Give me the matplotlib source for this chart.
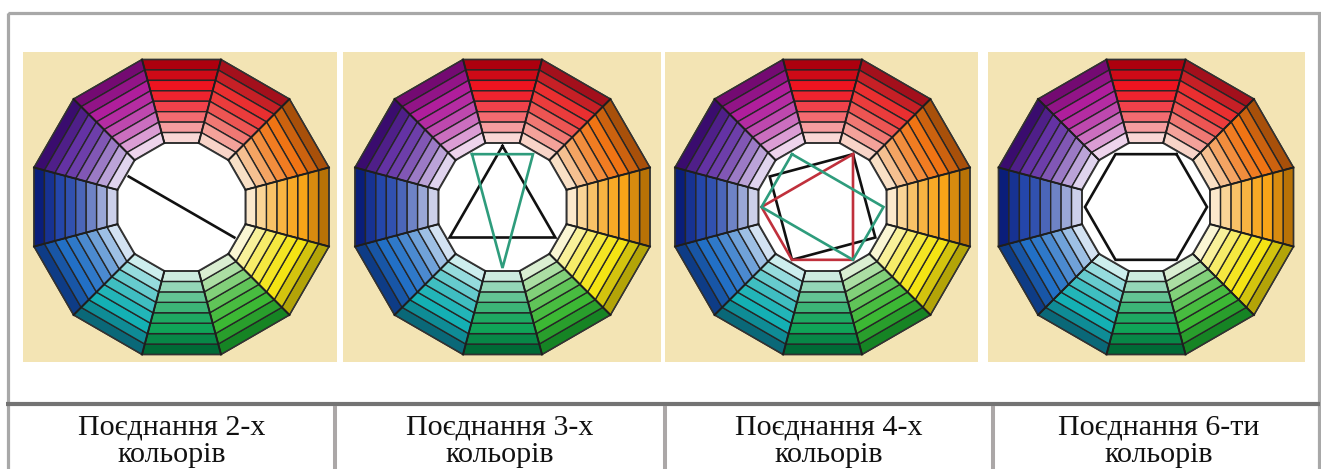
import numpy as np
import matplotlib
matplotlib.use('Agg')
import matplotlib.pyplot as plt
from matplotlib.patches import Polygon, Rectangle
from matplotlib.colors import to_rgb

# Кольори сегментів (за годинниковою стрілкою від верху): темний, чистий, світлий
hue_dark = ['#ad000e', '#a3101c', '#a8500a', '#b87206', '#b3a408', '#168424',
            '#006a36', '#0a6878', '#0e3c86', '#0a1e7a', '#3a0c6e', '#740a72']
hue_pure = ['#ee1420', '#ea2f30', '#f07414', '#f7a418', '#f4e414', '#3cb834',
            '#10a458', '#14b0b4', '#2270c6', '#2446aa', '#6432a4', '#b01e9c']
hue_light = ['#f9d8d6', '#f8d4c8', '#f9e0c6', '#fbe8cc', '#faf6d4', '#daeed2',
             '#cdece0', '#cdeeee', '#d3e2f2', '#ccd0ea', '#e0d4ee', '#eed4ec']

# Поєднання кольорів: індекси сегментів для кожного круга
schemes = [
    [([10, 4], '#111111', False)],
    [([0, 4, 8], '#111111', True), ([11, 1, 6], '#2e9c7c', True)],
    [([1, 4, 7, 10], '#111111', True), ([1, 5, 7, 9], '#c0303c', True),
     ([11, 3, 5, 9], '#2e9c7c', True)],
    [([1, 3, 5, 7, 9, 11], '#111111', True)],
]

captions = ['Поєднання 2-х\nкольорів', 'Поєднання 3-х\nкольорів',
            'Поєднання 4-х\nкольорів', 'Поєднання 6-ти\nкольорів']

n_bands = 8

fig = plt.figure(figsize=(13.21, 4.69), dpi=100)
ax = fig.add_axes([0, 0, 1, 1])
ax.set_xlim(0, 1321)
ax.set_ylim(469, 0)
ax.axis('off')

# Рамки таблиці
ax.add_patch(Rectangle((7.5, 13.5), 1311, 470, fill=False, ec='#a8a8a8', lw=2.3))
ax.plot([6, 1320], [404, 404], color='#737373', lw=3.0, solid_capstyle='butt')
for xv in [335, 665, 993]:
    ax.plot([xv, xv], [406, 470], color='#aba7a7', lw=2.9, solid_capstyle='butt')

panels = [(23, 337), (343, 661), (665, 978), (988, 1305)]
centers = [181.5, 502.5, 822.5, 1146]
cy = 207
R_out = 147.5
R_in = 64
c15 = np.cos(np.radians(15))


def pt(cx, a, r):
    a = np.radians(a)
    return cx + r * np.sin(a), cy - r * np.cos(a)


def band_color(k, i):
    d, p, l = np.array(to_rgb(hue_dark[k])), np.array(to_rgb(hue_pure[k])), np.array(to_rgb(hue_light[k]))
    if i <= 2:
        t = i / 2
        return d * (1 - t) + p * t
    t = ((i - 2) / (n_bands - 1 - 2)) ** 1.6
    return p * (1 - t) + l * t


for w, (x0, x1) in enumerate(panels):
    ax.add_patch(Rectangle((x0, 52), x1 - x0, 310, fc='#f3e4b4', ec='none'))
    cx = centers[w]
    bw = (R_out - R_in) / n_bands
    for k in range(12):
        a0, a1 = 30 * k - 15, 30 * k + 15
        for i in range(n_bands):
            ro = (R_out - i * bw) / c15
            ri = (R_out - (i + 1) * bw) / c15
            poly = [pt(cx, a0, ro), pt(cx, a1, ro), pt(cx, a1, ri), pt(cx, a0, ri)]
            ax.add_patch(Polygon(poly, closed=True, fc=band_color(k, i), ec='#262626', lw=1.0))
        xa, ya = zip(pt(cx, a0, R_out / c15), pt(cx, a0, R_in / c15))
        ax.plot(xa, ya, color='#1e1e1e', lw=1.4)
    inner = [pt(cx, 30 * k - 15, R_in / c15) for k in range(12)]
    ax.add_patch(Polygon(inner, closed=True, fc='white', ec='#333333', lw=1.4))
    outer = [pt(cx, 30 * k - 15, R_out / c15) for k in range(12)]
    ax.add_patch(Polygon(outer, closed=True, fill=False, ec='#333333', lw=1.0))

    # Фігури поєднань
    for idx, col, closed in schemes[w]:
        pts = [pt(cx, 30 * k, 61) for k in idx]
        if closed:
            pts.append(pts[0])
        xs, ys = zip(*pts)
        ax.plot(xs, ys, color=col, lw=1.9, solid_joinstyle='miter')

# Підписи
edges = [9, 335, 665, 993, 1325]
for j, cap in enumerate(captions):
    xc = (edges[j] + edges[j + 1]) / 2
    l1, l2 = cap.split('\n')
    ax.text(xc, 434, l1, ha='center', va='baseline', fontsize=21.6,
            family='Liberation Serif', color='#111111')
    ax.text(xc, 462, l2, ha='center', va='baseline', fontsize=21.6,
            family='Liberation Serif', color='#111111')

fig.savefig('out.png', dpi=100)
